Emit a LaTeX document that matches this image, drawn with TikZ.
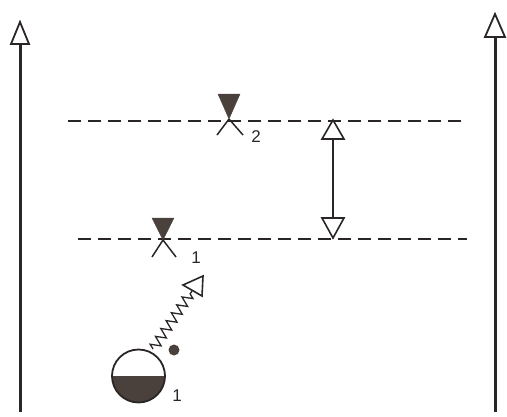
\documentclass[tikz,border=0pt]{standalone}
\usepackage{fontspec}
\setmainfont{Liberation Sans}
\usetikzlibrary{decorations.pathmorphing,calc}
\definecolor{ink}{HTML}{2A2626}
\definecolor{fillc}{HTML}{4A403C}
\tikzset{
  level/.style={ink, line width=1.3pt, dash pattern=on 13pt off 7pt},
  post/.style={ink, line width=3pt},
  head/.style={ink, line width=1.8pt, fill=white, line join=miter},
  lbl/.style={text=ink, font=\fontsize{17}{17}\selectfont, inner sep=0pt},
  wlev/.style={fill=fillc, draw=fillc},
}
\begin{document}
\begin{tikzpicture}[x=1pt,y=-1pt]
\useasboundingbox (0,0) rectangle (507,416);
% posts
\coordinate (lb) at (20,412); \coordinate (lt) at (20,22); \coordinate (lh) at (20,44);
\coordinate (rb) at (495,412); \coordinate (rt) at (495,14); \coordinate (rh) at (495,37);
\draw[post] (lb) -- (lh);
\draw[head] (lt) -- ($(lh)+(-9,0)$) -- ($(lh)+(9,0)$) -- cycle;
\draw[post] (rb) -- (rh);
\draw[head] (rt) -- ($(rh)+(-10,0)$) -- ($(rh)+(10,0)$) -- cycle;
% dashed levels
\coordinate (u1) at (68,121); \coordinate (u2) at (462,121);
\coordinate (d1) at (78,239); \coordinate (d2) at (467,239);
\draw[level] (u1) -- (u2);
\draw[level] (d1) -- (d2);
% water level symbol 2
\coordinate (w2) at (229,119);
\fill[wlev] ($(w2)+(-11,-25)$) -- ($(w2)+(11,-25)$) -- (w2) -- cycle;
\draw[ink, line width=1.5pt] (w2) -- ++(-12,16) (w2) -- ++(14,16);
\node[lbl] (n2) at (256,137) {2};
% water level symbol 1
\coordinate (w1) at (163,240);
\fill[wlev] ($(w1)+(-11,-22)$) -- ($(w1)+(11,-22)$) -- (w1) -- cycle;
\draw[ink, line width=1.5pt] (w1) -- ++(-11,17) (w1) -- ++(13,17);
\node[lbl] (n1) at (196,258) {1};
% double arrow
\coordinate (da) at (333,120); \coordinate (dah) at (333,139);
\coordinate (db) at (333,238); \coordinate (dbh) at (333,218);
\draw[ink, line width=1.3pt] (dah) -- (dbh);
\draw[head, line width=1.6pt] (da) -- ($(dah)+(-11,0)$) -- ($(dah)+(11,0)$) -- cycle;
\draw[head, line width=1.6pt] (db) -- ($(dbh)+(-11,0)$) -- ($(dbh)+(11,0)$) -- cycle;
% vessel
\coordinate (c) at (138.5,376);
\fill[fillc] ($(c)+(-26.5,0)$) arc[start angle=180, end angle=0, radius=26.5] -- cycle;
\draw[ink, line width=1.8pt] (c) circle[radius=26.5];
\node[lbl] (n3) at (177,396) {1};
\fill[fillc] (174,350) circle[radius=5.5];
% wavy arrow
\coordinate (ws) at (153,349); \coordinate (we) at (192,291);
\coordinate (wt) at (203,276);
\draw[ink, line width=1.3pt, decorate, decoration={zigzag, segment length=9.5pt, amplitude=5pt, post length=3pt}] (ws) -- (we);
\draw[head, line width=1.6pt] (wt) -- (183,285) -- (202,296) -- cycle;
\end{tikzpicture}
\end{document}
